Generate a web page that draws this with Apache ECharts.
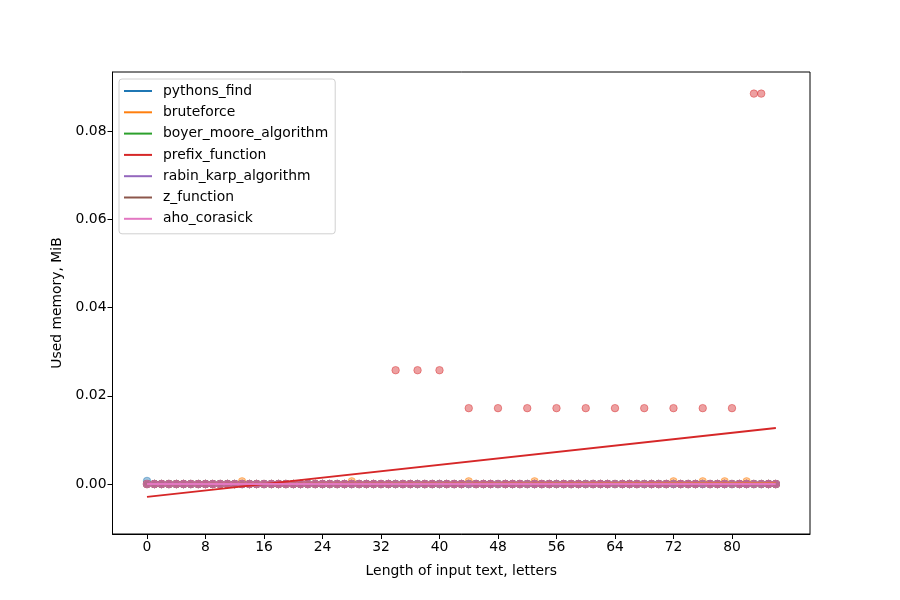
<!DOCTYPE html>
<html>
<head>
<meta charset="utf-8">
<script src="https://cdn.jsdelivr.net/npm/echarts@6/dist/echarts.min.js"></script>
<style>html,body{margin:0;padding:0;background:#fff}#c{width:900px;height:600px}</style>
</head>
<body>
<div id="c"></div>
<script>
// Text lengths (x values)
const lengths = [
  0,1,2,3,4,5,6,7,8,9,
  10,11,12,13,14,15,16,17,18,19,
  20,21,22,23,24,25,26,27,28,29,
  30,31,32,33,34,35,36,37,38,39,
  40,41,42,43,44,45,46,47,48,49,
  50,51,52,53,54,55,56,57,58,59,
  60,61,62,63,64,65,66,67,68,69,
  70,71,72,73,74,75,76,77,78,79,
  80,81,82,83,84,85,86
];
const seriesNames = ['pythons_find','bruteforce','boyer_moore_algorithm','prefix_function','rabin_karp_algorithm','z_function','aho_corasick'];
const pythonsFind = [
  0.0007,0,0,0,0,0,0,0,0,0,
  0,0,0,0,0,0,0,0,0,0,
  0,0,0,0,0,0,0,0,0,0,
  0,0,0,0,0,0,0,0,0,0,
  0,0,0,0,0,0,0,0,0,0,
  0,0,0,0,0,0,0,0,0,0,
  0,0,0,0,0,0,0,0,0,0,
  0,0,0,0,0,0,0,0,0,0,
  0,0,0,0,0,0,0
];
const bruteforce = [
  0,0,0,0,0,0,0,0,0,0,
  0,0,0,0.0006,0,0,0,0,0,0,
  0,0,0,0,0,0,0,0,0.0006,0,
  0,0,0,0,0,0,0,0,0,0,
  0,0,0,0,0.0006,0,0,0,0,0,
  0,0,0,0.0006,0,0,0,0,0,0,
  0,0,0,0,0,0,0,0,0,0,
  0,0,0.0006,0,0,0,0.0006,0,0,0.0006,
  0,0,0.0006,0,0,0,0
];
const boyerMoore = [
  0,0,0,0,0,0,0,0,0,0,
  0,0,0,0,0,0,0,0,0,0,
  0,0,0,0,0,0,0,0,0,0,
  0,0,0,0,0,0,0,0,0,0,
  0,0,0,0,0,0,0,0,0,0,
  0,0,0,0,0,0,0,0,0,0,
  0,0,0,0,0,0,0,0,0,0,
  0,0,0,0,0,0,0,0,0,0,
  0,0,0,0,0,0,0
];
const prefixFunction = [
  0,0,0,0,0,0,0,0,0,0,
  0,0,0,0,0,0,0,0,0,0,
  0,0,0,0,0,0,0,0,0,0,
  0,0,0,0,0.0258,0,0,0.0258,0,0,
  0.0258,0,0,0,0.0172,0,0,0,0.0172,0,
  0,0,0.0172,0,0,0,0.0172,0,0,0,
  0.0172,0,0,0,0.0172,0,0,0,0.0172,0,
  0,0,0.0172,0,0,0,0.0172,0,0,0,
  0.0172,0,0,0.0885,0.0885,0,0
];
const rabinKarp = [
  0,0,0,0,0,0,0,0,0,0,
  0,0,0,0,0,0,0,0,0,0,
  0,0,0,0,0,0,0,0,0,0,
  0,0,0,0,0,0,0,0,0,0,
  0,0,0,0,0,0,0,0,0,0,
  0,0,0,0,0,0,0,0,0,0,
  0,0,0,0,0,0,0,0,0,0,
  0,0,0,0,0,0,0,0,0,0,
  0,0,0,0,0,0,0
];
const zFunction = [
  0,0,0,0,0,0,0,0,0,0,
  0,0,0,0,0,0,0,0,0,0,
  0,0,0,0,0,0,0,0,0,0,
  0,0,0,0,0,0,0,0,0,0,
  0,0,0,0,0,0,0,0,0,0,
  0,0,0,0,0,0,0,0,0,0,
  0,0,0,0,0,0,0,0,0,0,
  0,0,0,0,0,0,0,0,0,0,
  0,0,0,0,0,0,0
];
const ahoCorasick = [
  0,0,0,0,0,0,0,0,0,0,
  0,0,0,0,0,0,0,0,0,0,
  0,0,0,0,0,0,0,0,0,0,
  0,0,0,0,0,0,0,0,0,0,
  0,0,0,0,0,0,0,0,0,0,
  0,0,0,0,0,0,0,0,0,0,
  0,0,0,0,0,0,0,0,0,0,
  0,0,0,0,0,0,0,0,0,0,
  0,0,0,0,0,0,0
];
const xTicks = [0,8,16,24,32,40,48,56,64,72,80];
const yTicks = [0,0.02,0.04,0.06,0.08];
const colors = ['#1f77b4','#ff7f0e','#2ca02c','#d62728','#9467bd','#8c564b','#e377c2'];

const allValues = [pythonsFind,bruteforce,boyerMoore,prefixFunction,rabinKarp,zFunction,ahoCorasick];

function fit(xs, ys){
  const n = xs.length;
  let mx=0,my=0; for(let i=0;i<n;i++){mx+=xs[i];my+=ys[i];} mx/=n; my/=n;
  let sxy=0,sxx=0; for(let i=0;i<n;i++){sxy+=(xs[i]-mx)*(ys[i]-my);sxx+=(xs[i]-mx)*(xs[i]-mx);}
  const m = sxy/sxx, b = my - m*mx;
  const x0 = xs[0], x1 = xs[n-1];
  return [[x0, b+m*x0],[x1, b+m*x1]];
}
function rgba(hex, a){
  const r=parseInt(hex.slice(1,3),16), g=parseInt(hex.slice(3,5),16), b=parseInt(hex.slice(5,7),16);
  return 'rgba('+r+','+g+','+b+','+a+')';
}

const series = [];
allValues.forEach((vals,i)=>{
  series.push({
    type:'scatter', name: seriesNames[i]+'_pts',
    data: lengths.map((x,j)=>[x, vals[j]]),
    symbolSize: 7.5,
    itemStyle:{color:rgba(colors[i],0.55), borderColor:rgba(colors[i],0.55), borderWidth:1},
    silent:true, z:1
  });
});
allValues.forEach((vals,i)=>{
  series.push({
    type:'line', name: seriesNames[i],
    data: fit(lengths, vals),
    showSymbol:false, symbol:'none',
    lineStyle:{color:colors[i], width:2},
    itemStyle:{color:colors[i]},
    silent:true, z:3
  });
});

const chart = echarts.init(document.getElementById('c'), null, {renderer:'canvas'});
const font = 'DejaVu Sans';
chart.setOption({
  animation:false,
  backgroundColor:'#fff',
  grid:{left:112.5, right:90, top:72, bottom:66, show:true, borderColor:'#000', borderWidth:1, backgroundColor:'transparent'},
  legend:{
    data: seriesNames,
    orient:'vertical', left:119, top:79,
    icon:'rect', itemWidth:28, itemHeight:2, itemGap:5.3,
    backgroundColor:'rgba(255,255,255,0.8)', borderColor:'#d0d0d0', borderWidth:1, borderRadius:3,
    padding:[4,7,7,5],
    textStyle:{fontFamily:font, fontSize:13.9, color:'#000', lineHeight:16, padding:[0,0,0,6]},
    selectedMode:false
  },
  xAxis:{
    type:'value', min:-4.72, max:90.67,
    name:'Length of input text, letters', nameLocation:'middle', nameGap:30,
    nameTextStyle:{fontFamily:font, fontSize:13.9, color:'#000'},
    axisLine:{show:true, onZero:false, lineStyle:{color:'#000', width:1}},
    axisTick:{show:true, inside:false, length:5, customValues:xTicks, lineStyle:{color:'#000'}},
    axisLabel:{customValues:xTicks, fontFamily:font, fontSize:13.9, color:'#000', margin:6},
    splitLine:{show:false}
  },
  yAxis:{
    type:'value', min:-0.01133, max:0.0934,
    name:'Used memory, MiB', nameLocation:'middle', nameGap:46, nameRotate:90,
    nameTextStyle:{fontFamily:font, fontSize:13.9, color:'#000'},
    axisLine:{show:true, onZero:false, lineStyle:{color:'#000', width:1}},
    axisTick:{show:true, inside:false, length:5, customValues:yTicks, lineStyle:{color:'#000'}},
    axisLabel:{customValues:yTicks, fontFamily:font, fontSize:13.9, color:'#000', margin:6,
      formatter:v=>v.toFixed(2)},
    splitLine:{show:false}
  },
  series: series
});
</script>
</body>
</html>
